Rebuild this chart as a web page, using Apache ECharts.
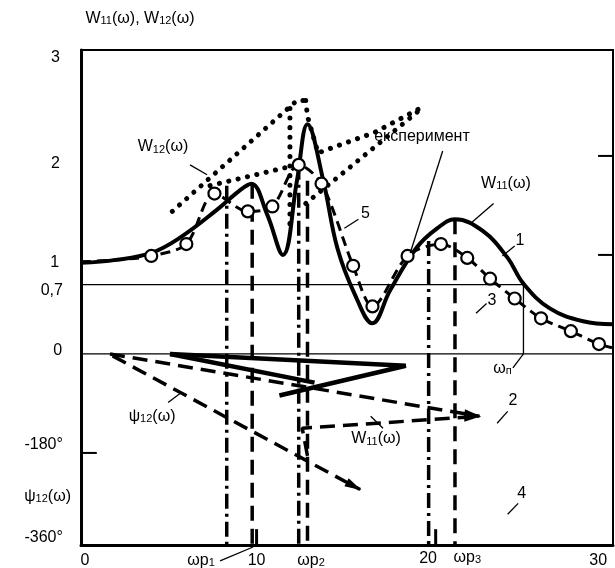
<!DOCTYPE html>
<html><head><meta charset="utf-8">
<script src="https://cdn.jsdelivr.net/npm/echarts@6/dist/echarts.min.js"></script>
<style>html,body{margin:0;padding:0;background:#fff}#c{width:615px;height:568px}</style>
</head><body><div id="c"></div>
<script>
// ---------- DATA ----------
// curve 1: W11(ω) amplitude (solid)
const w11X = [0,2,4,5.6,7.7,9.1,9.7,10.6,11.5,12.3,12.9,13.8,14.6,15.6,16.6,17.6,19.1,20.3,21.3,22.9,24.3,25.2,26.7,28.6,30.3];
const w11Y = [0.92,0.95,1.02,1.17,1.45,1.66,1.72,1.41,1.0,1.75,2.32,1.75,1.07,0.6,0.31,0.64,1.07,1.27,1.36,1.24,0.97,0.71,0.46,0.33,0.30];
// curve 5: experiment points (circles) and dashed line ends
const expX = [4.0,6.0,7.6,9.5,10.9,12.4,13.7,15.5,16.6,18.6,20.5,22.0,23.3,24.7,26.2,27.9,29.5];
const expY = [0.99,1.11,1.62,1.44,1.49,1.91,1.72,0.89,0.48,0.99,1.11,0.97,0.76,0.56,0.36,0.23,0.10];
const expStart = [[0,0.93],[2,0.95]];
const expEnd = [[30.3,0.06]];
// W12(ω) dotted branches
const w12aX = [5.2,12.3,12.8];   const w12aY = [1.44,2.56,2.56];
const w12bX = [7.35,12.08];      const w12bY = [1.70,1.90];
const w12cX = [11.9,11.9];       const w12cY = [2.48,1.30];
const w12dX = [12.8,12.9,13.5,16.75,19.2]; const w12dY = [2.56,2.40,2.03,2.24,2.47];
const w12eX = [12.8,19.2];       const w12eY = [1.52,2.45];
// reference levels
const level07 = [[0,0.7],[25.2,0.7],[25.2,0]];
const level0 = [[0,0],[30.3,0]];
// resonance verticals
const axisMinY = -1.93;
const pDashDotX = [8.3,12.4,19.8];  const pDashDotTop = [1.70,1.91,1.14];
const pDashX = [9.75,12.9,21.3];    const pDashTop = [1.72,1.75,1.36];
// phase curves
const phaseSolidA = [[5.07,0],[18.5,-0.12],[11.3,-0.42]];
const phaseSolidB = [[5.07,0],[13.3,-0.29]];
const phase2 = [[1.65,0],[22.7,-0.63]];
const psi12 = [[1.8,-0.02],[15.9,-1.37]];
const w11Phase = [[12.9,-1.03],[12.6,-0.75],[22.7,-0.63]];
// tick labels
const xTickLabels = ['0','10','20','30'];
const yTickLabels = ['3','2','1','0,7','0','-180°','ψ{s|12}(ω)','-360°'];

// ---------- CHART ----------
const FONT = '"Liberation Sans", Arial, sans-serif';
const pair = (xs, ys) => xs.map((x,i)=>[x, ys[i]]);
const K = '#000';
function ln(data, lw, type, extra){
  return Object.assign({type:'line', data, symbol:'none', silent:true, animation:false,
    lineStyle:{color:K, width:lw, type:type||'solid'}, z:2}, extra||{});
}
const DASH = [15,8], DASHDOT = [15,5,3,5], DOT = [0.1,9.5];
const series = [];
series.push(ln(level07,1.3));
series.push(ln(level0,1.3));
pDashDotX.forEach((x,i)=>series.push(ln([[x,pDashDotTop[i]],[x,axisMinY]],3.5,DASHDOT)));
pDashX.forEach((x,i)=>series.push(ln([[x,pDashTop[i]],[x,axisMinY]],3.5,DASH)));
[[w12aX,w12aY],[w12bX,w12bY],[w12cX,w12cY],[w12dX,w12dY],[w12eX,w12eY]].forEach(([a,b])=>
  series.push(ln(pair(a,b),5,DOT,{lineStyle:{color:K,width:5,type:DOT,cap:'round'}})));
series.push(ln(expStart.concat(pair(expX,expY)).concat(expEnd),3,[10,6],{smooth:0.3}));
series.push(ln(pair(w11X,w11Y),4,'solid',{smooth:0.4,z:4}));
series.push({type:'scatter', data:pair(expX,expY), symbol:'circle', symbolSize:12, silent:true, animation:false, z:5,
  itemStyle:{color:'#fff', opacity:1, borderColor:K, borderWidth:2.2}});
series.push(ln(phaseSolidA,4.5));
series.push(ln(phaseSolidB,4.5));
series.push(ln(phase2,3.5,DASH));
series.push(ln(psi12,3.5,DASH));
series.push(ln(w11Phase,3.5,DASH));

const chart = echarts.init(document.getElementById('c'));
chart.setOption({
  animation:false,
  textStyle:{fontFamily:FONT},
  grid:{left:81,right:2,top:50,bottom:23,show:true,borderColor:K,borderWidth:2},
  xAxis:{type:'value',min:0,max:30.3,axisLine:{onZero:false,lineStyle:{color:K,width:3}},
    axisTick:{show:false},axisLabel:{show:false},splitLine:{show:false}},
  yAxis:{type:'value',min:-1.93,max:3.07,axisLine:{show:true,onZero:false,lineStyle:{color:K,width:3}},
    axisTick:{show:false},axisLabel:{show:false},splitLine:{show:false}},
  series
});

const P = (p)=>chart.convertToPixel({gridIndex:0},p);
const Q = (p)=>chart.convertFromPixel({gridIndex:0},p);

// arrowheads at the ends of the phase lines, oriented along the last segment
const arrowLines = [phase2, psi12, w11Phase];
const heads = arrowLines.map(l=>{
  const a = P(l[l.length-2]), b = P(l[l.length-1]);
  const dx = b[0]-a[0], dy = b[1]-a[1], len = Math.hypot(dx,dy);
  const c = Q([b[0]-dx/len*7, b[1]-dy/len*7]);
  const ang = Math.atan2(-dy,dx)*180/Math.PI - 90;
  return {value:c, symbolRotate:ang};
});
series.push({type:'scatter', data:heads, symbol:'triangle', symbolSize:[9,17], symbolKeepAspect:false,
  silent:true, animation:false, z:6, itemStyle:{color:K, opacity:1}});
chart.setOption({series});

// ---------- ANNOTATIONS (placed through the chart's scales) ----------
const xTickPos = [[0.23,-2.09],[10.0,-2.09],[19.77,-2.07],[29.46,-2.09]];
const yTickPos = [[-1.2,2.99],[-1.2,1.92],[-1.25,0.92],[-1.03,0.64],[-1.08,0.03],[-1.03,-0.92],[-0.57,-1.44],[-1.03,-1.86]];
const notes = [
  ['W{s|11}(ω), W{s|12}(ω)',3.36,3.39,'center'],
  ['ωp{s|1}',6.84,-2.09,'center'],
  ['ωp{s|2}',13.1,-2.09,'center'],
  ['ωp{s|3}',22.0,-2.06,'center'],
  ['W{s|12}(ω)',4.67,2.09,'center'],
  ['експеримент',16.7,2.20,'left'],
  ['W{s|11}(ω)',24.2,1.72,'center'],
  ['1',25.0,1.14,'center'],
  ['5',16.2,1.42,'center'],
  ['3',23.4,0.54,'center'],
  ['ω{s|п}',24.0,-0.15,'center'],
  ['2',24.6,-0.47,'center'],
  ['4',25.1,-1.41,'center'],
  ['ψ{s|12}(ω)',4.05,-0.63,'center'],
  ['W{s|11}(ω)',16.8,-0.86,'center']
];
const leaders = [
  [[6.21,1.91],[7.18,1.81]],[[20.6,2.05],[18.75,1.02]],[[23.5,1.52],[22.2,1.32]],
  [[24.7,1.09],[24.0,0.99]],[[15.8,1.36],[15.0,1.27]],[[23.1,0.51],[22.5,0.41]],
  [[25.2,0],[24.6,-0.14]],[[24.3,-0.58],[23.7,-0.70]],[[24.9,-1.51],[24.3,-1.62]],
  [[4.96,-0.49],[5.64,-0.40]],[[17.2,-0.75],[16.5,-0.63]],[[7.92,-2.09],[9.8,-1.95]]
];
const ticks = [
  [[29.45,2],[30.3,2],2],[[29.45,1],[30.3,1],2],[[0,-1],[0.9,-1],2],
  [[10,-1.93],[10,-1.77],3],[[20.2,-1.93],[20.2,-1.77],3]
];
const RICH = {s:{fontSize:11,fontFamily:FONT,fill:K,verticalAlign:'bottom',padding:[5,0,0,0]}};
const g = [];
function txt(t,p,align){
  const q = P(p);
  g.push({type:'text',x:q[0],y:q[1],silent:true,z:10,
    style:{text:t,fontSize:16,fontFamily:FONT,fill:K,align:align,verticalAlign:'middle',rich:RICH}});
}
xTickLabels.forEach((t,i)=>txt(t,xTickPos[i],'center'));
yTickLabels.forEach((t,i)=>txt(t,yTickPos[i],'right'));
notes.forEach(n=>txt(n[0],[n[1],n[2]],n[3]));
leaders.forEach(l=>{const a=P(l[0]),b=P(l[1]);
  g.push({type:'line',silent:true,z:10,shape:{x1:a[0],y1:a[1],x2:b[0],y2:b[1]},style:{stroke:K,lineWidth:1.3}});});
ticks.forEach(l=>{const a=P(l[0]),b=P(l[1]);
  g.push({type:'line',silent:true,z:10,shape:{x1:a[0],y1:a[1],x2:b[0],y2:b[1]},style:{stroke:K,lineWidth:l[2]}});});
chart.setOption({graphic:g});
</script>
</body></html>
